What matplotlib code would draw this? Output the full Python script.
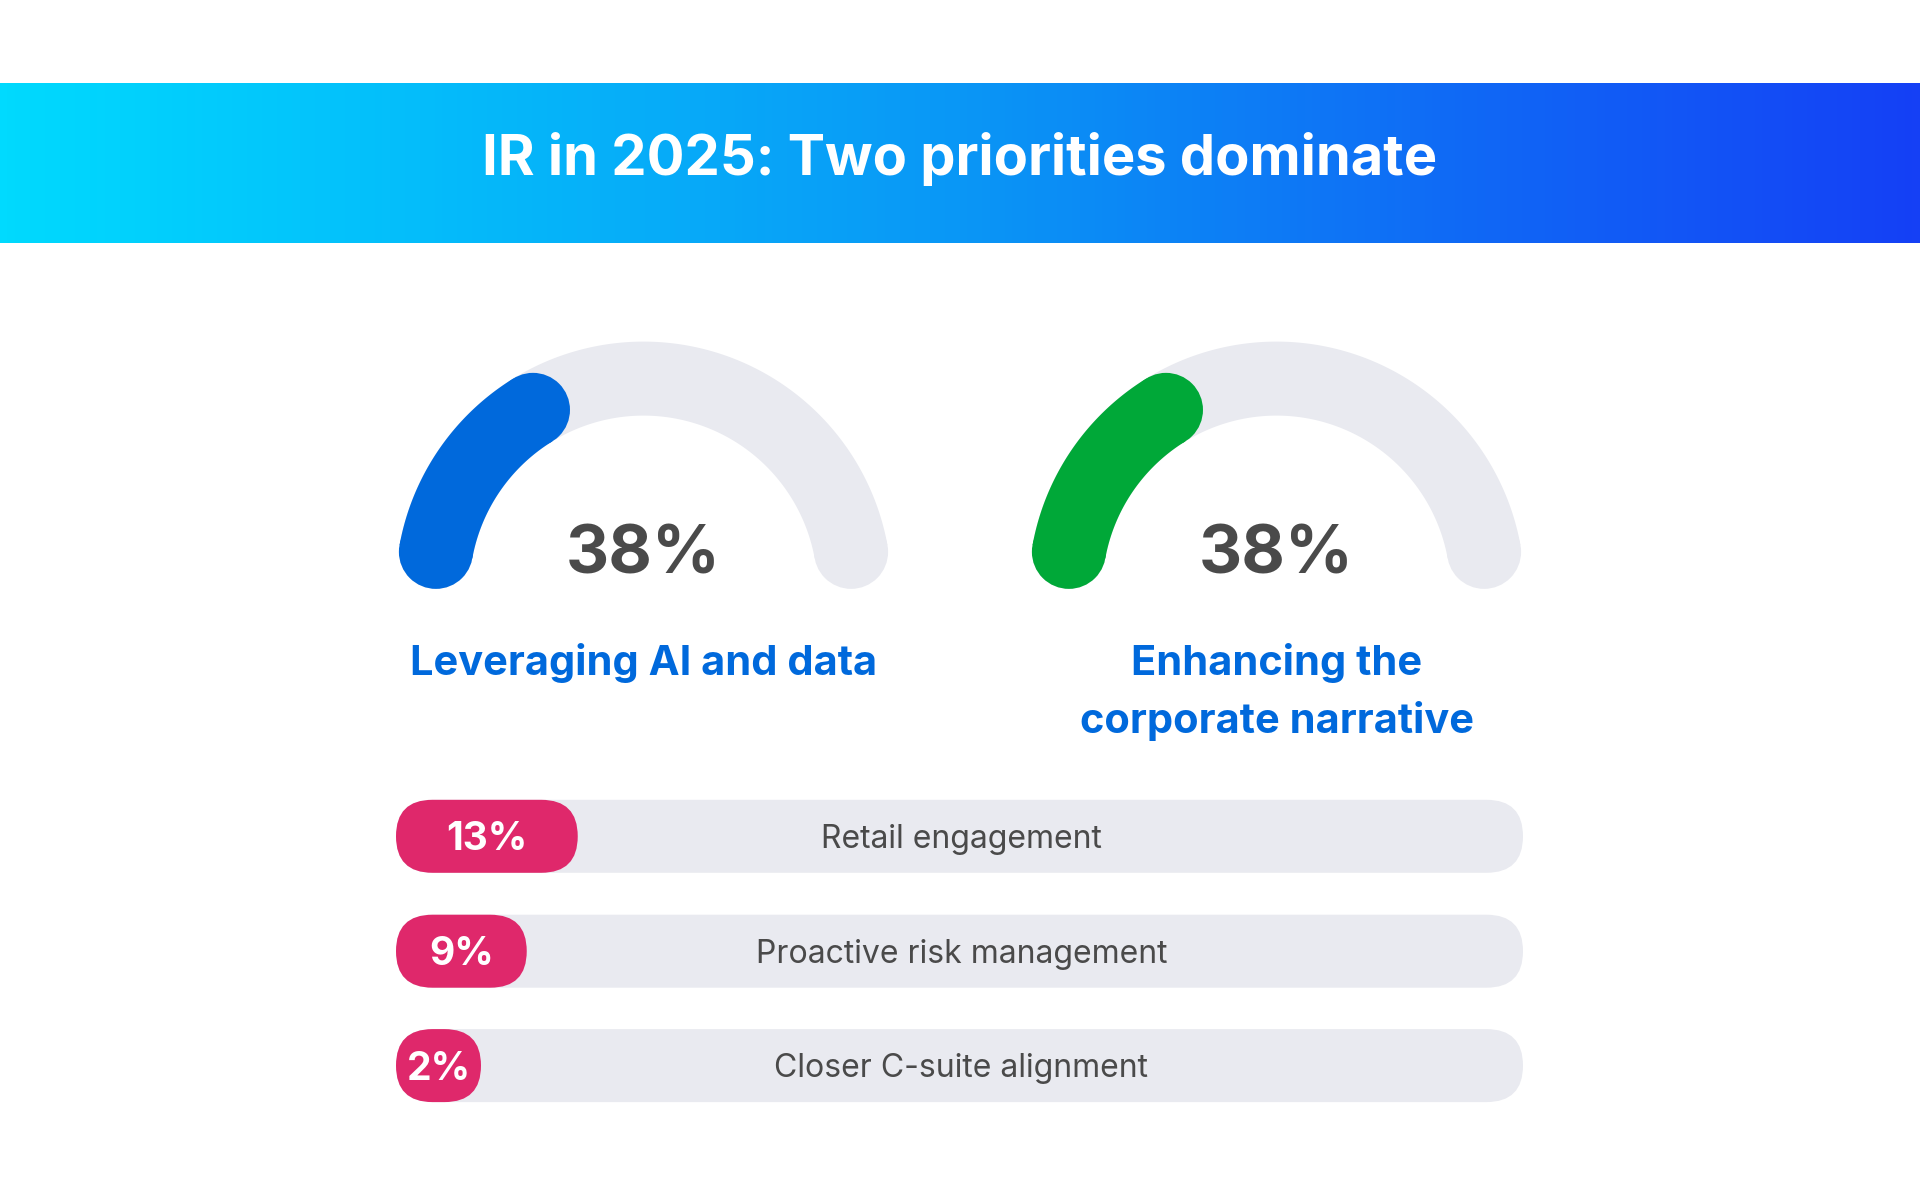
"""IR in 2025 priorities: two gauges plus three pill bars."""
import matplotlib
matplotlib.use("Agg")
import matplotlib.pyplot as plt
import numpy as np
from matplotlib.colors import LinearSegmentedColormap
from matplotlib.patches import Circle, FancyBboxPatch, Polygon

plt.rcParams["font.family"] = ["Inter", "DejaVu Sans"]

TITLE = "IR in 2025: Two priorities dominate"

gauge_labels = ["Leveraging AI and data", "Enhancing the\ncorporate narrative"]
gauge_values = [38, 38]
gauge_colors = ["#0069DC", "#00A838"]

bar_labels = ["Retail engagement", "Proactive risk management", "Closer C-suite alignment"]
bar_values = [13, 9, 2]

W, H = 1920, 1200
TRACK = "#E9EAF0"
PINK = "#DF286B"
LABEL_BLUE = "#0069DC"
DARK = "#4A4A4A"


def pt(px):
    # pixel size -> points at dpi 100
    return px * 0.72


fig = plt.figure(figsize=(W / 100, H / 100), dpi=100)
ax = fig.add_axes([0, 0, 1, 1])
ax.set_xlim(0, W)
ax.set_ylim(H, 0)
ax.axis("off")

# header band with horizontal gradient
grad = LinearSegmentedColormap.from_list("band", ["#00DAFE", "#0A97F6", "#1540F5"])
ax.imshow(np.linspace(0, 1, 512)[None, :], cmap=grad, aspect="auto",
          extent=(0, W, 243, 83), zorder=0)
ax.text(W / 2, 175, TITLE, color="white", fontsize=pt(56), fontweight="bold",
        ha="center", va="baseline")


def arc_band(cx, cy, r_mid, half_w, a0, a1, color):
    th = np.radians(np.linspace(a0, a1, 200))
    outer = np.c_[cx + (r_mid + half_w) * np.cos(th), cy - (r_mid + half_w) * np.sin(th)]
    inner = np.c_[cx + (r_mid - half_w) * np.cos(th), cy - (r_mid - half_w) * np.sin(th)][::-1]
    ax.add_patch(Polygon(np.vstack([outer, inner]), closed=True, fc=color, ec="none"))
    for a in (a0, a1):
        ax.add_patch(Circle((cx + r_mid * np.cos(np.radians(a)), cy - r_mid * np.sin(np.radians(a))),
                            half_w, fc=color, ec="none"))


# gauges
g_centers = [643.5, 1276.5]
g_cy, g_r, g_hw = 589.6, 211, 37
start, end = 169.7, 10.3
span = np.radians(start - end)
total_len = g_r * span + 2 * g_hw
for cx, val, col, lab in zip(g_centers, gauge_values, gauge_colors, gauge_labels):
    arc_band(cx, g_cy, g_r, g_hw, end, start, TRACK)
    fill_len = val / 100 * total_len - 2 * g_hw
    a_fill = start - np.degrees(fill_len / g_r)
    arc_band(cx, g_cy, g_r, g_hw, a_fill, start, col)
    ax.text(cx, 573, f"{val}%", color=DARK, fontsize=pt(67), fontweight="bold",
            ha="center", va="baseline")
    for i, line in enumerate(lab.split("\n")):
        ax.text(cx, 675 + i * 58, line, color=LABEL_BLUE, fontsize=pt(41.6),
                fontweight="bold", ha="center", va="baseline")

# pill bars
x0, x1 = 396, 1523
bh = 73
row_cy = [836.3, 951.2, 1065.6]
px_per_pct, pill_offset, min_pill = 12.75, 16, 85
for yc, val, lab in zip(row_cy, bar_values, bar_labels):
    ax.add_patch(FancyBboxPatch((x0, yc - bh / 2), x1 - x0, bh,
                                boxstyle=f"round,pad=0,rounding_size={bh / 2}",
                                fc=TRACK, ec="none"))
    pw = max(val * px_per_pct + pill_offset, min_pill)
    ax.add_patch(FancyBboxPatch((x0, yc - bh / 2), pw, bh,
                                boxstyle=f"round,pad=0,rounding_size={bh / 2}",
                                fc=PINK, ec="none"))
    ax.text(x0 + pw / 2, yc + 14, f"{val}%", color="white", fontsize=pt(39),
            fontweight="bold", ha="center", va="baseline")
    ax.text((x0 + x1) / 2 + 2, yc + 11.5, lab, color=DARK, fontsize=pt(32),
            ha="center", va="baseline")

fig.savefig("out.png", dpi=100, facecolor="white")
